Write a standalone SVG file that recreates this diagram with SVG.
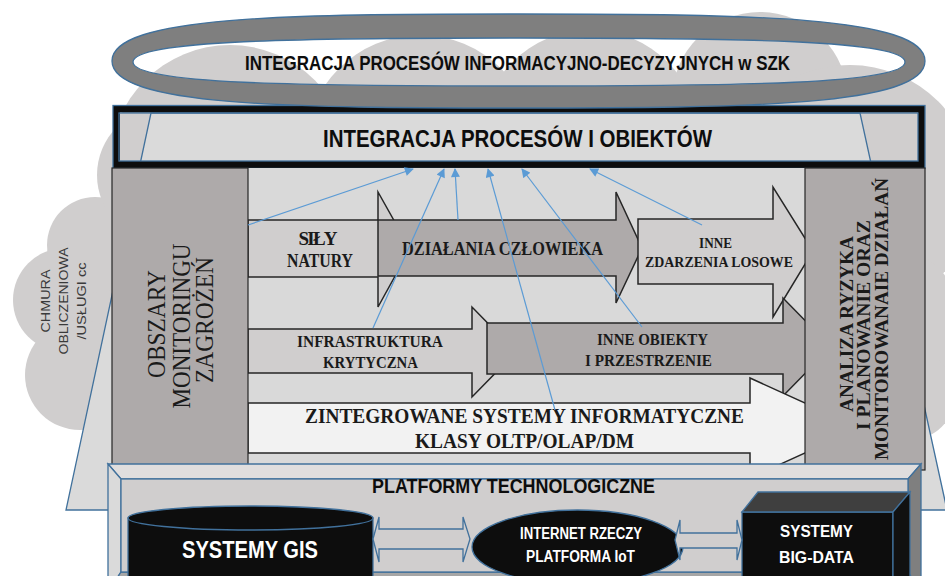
<svg xmlns="http://www.w3.org/2000/svg" width="945" height="576" viewBox="0 0 945 576">
<defs>
<style>
.sans{font-family:"Liberation Sans",Arial,sans-serif;font-weight:bold}
.serif{font-family:"Liberation Serif","Times New Roman",serif;fill:#1a1a1a}
.b{font-weight:bold}
.arw{stroke:#262626;stroke-width:1.5;stroke-linejoin:miter}
.light{fill:#d0cece}
.dark{fill:#aeaaaa}
.conn{stroke:#5b9bd5;stroke-width:1.2;fill:none}
.blue{stroke:#41719c;stroke-width:1.3}
.w{fill:#ffffff}
</style>
<marker id="ah" viewBox="0 0 10 10" refX="9" refY="5" markerWidth="10" markerHeight="9" markerUnits="userSpaceOnUse" orient="auto">
<path d="M0,0 L10,5 L0,10 z" fill="#5b9bd5"/>
</marker>
</defs>
<rect width="945" height="576" fill="#ffffff"/>

<g id="cloud" fill="#d0cece">
<circle cx="65" cy="300" r="52"/>
<circle cx="80" cy="375" r="55"/>
<circle cx="95" cy="245" r="48"/>
<circle cx="165" cy="175" r="68"/>
<circle cx="230" cy="165" r="120"/>
<circle cx="420" cy="150" r="115"/>
<circle cx="590" cy="140" r="110"/>
<circle cx="760" cy="100" r="88"/>
<circle cx="850" cy="190" r="125"/>
<circle cx="880" cy="330" r="85"/>
<circle cx="910" cy="395" r="45"/>
</g>

<rect id="integration-box-fill" x="119" y="113" width="799" height="48" fill="#d0cece"/>
<polygon id="trapezoid" points="151,113 860,113 947,510 66,510" fill="#dadada" class="blue"/>

<g id="integration-box">
<rect x="116.5" y="109" width="805" height="55.5" fill="none" stroke="#0d0d0d" stroke-width="7"/>
<rect x="113" y="105.5" width="812" height="63" fill="none" class="blue"/>
<rect x="119" y="113" width="799" height="48" fill="none" class="blue"/>
<text class="sans" x="517.5" y="147" font-size="24" text-anchor="middle" textLength="389" lengthAdjust="spacingAndGlyphs" fill="#0d0d0d">INTEGRACJA PROCESÓW I OBIEKTÓW</text>
</g>

<g id="ring">
<path fill-rule="evenodd" fill="#7f7f7f" class="blue" d="M112,61 C112,16 290,14 518,14 C746,14 925,16 925,61 C925,106 746,108 518,108 C290,108 112,106 112,61 Z M133,62 C133,40 300,38 519,38 C738,38 905,40 905,62 C905,84 738,86 519,86 C300,86 133,84 133,62 Z"/>
<text class="sans" x="517.5" y="70" font-size="21" text-anchor="middle" textLength="545" lengthAdjust="spacingAndGlyphs" fill="#0d0d0d">INTEGRACJA PROCESÓW INFORMACYJNO-DECYZYJNYCH w SZK</text>
</g>

<rect id="panel" x="248" y="168" width="557" height="296" fill="#d9d9d9"/>

<g id="arrow-sily-natury">
<polygon class="arw light" points="248,220 378,220 378,192 410,249 378,307 378,277 248,277"/>
<text class="serif b" font-size="19" text-anchor="middle" lengthAdjust="spacingAndGlyphs"><tspan x="318" y="245" textLength="39">SIŁY</tspan></text>
<text class="serif b" font-size="19" text-anchor="middle" x="320" y="267" textLength="66" lengthAdjust="spacingAndGlyphs">NATURY</text>
</g>
<g id="arrow-dzialania">
<polygon class="arw dark" points="378,220 616,220 616,192 642,248 616,303 616,276 378,276"/>
<text class="serif b" font-size="19" text-anchor="middle" x="502.5" y="255" textLength="201" lengthAdjust="spacingAndGlyphs">DZIAŁANIA CZŁOWIEKA</text>
</g>
<g id="arrow-zdarzenia">
<polygon class="arw light" points="638,219 773,219 773,187 813,251 773,317 773,284 638,284"/>
<text class="serif b" font-size="15" text-anchor="middle" x="715.5" y="248" textLength="33" lengthAdjust="spacingAndGlyphs">INNE</text>
<text class="serif b" font-size="15" text-anchor="middle" x="719" y="267" textLength="148" lengthAdjust="spacingAndGlyphs">ZDARZENIA LOSOWE</text>
</g>
<g id="arrow-infrastruktura">
<polygon class="arw light" points="248,329 472,329 472,307 516,352 472,397 472,373 248,373"/>
<text class="serif b" font-size="16" text-anchor="middle" x="370" y="347" textLength="146" lengthAdjust="spacingAndGlyphs">INFRASTRUKTURA</text>
<text class="serif b" font-size="16" text-anchor="middle" x="370.5" y="368" textLength="95" lengthAdjust="spacingAndGlyphs">KRYTYCZNA</text>
</g>
<g id="arrow-obiekty">
<polygon class="arw dark" points="487,323 783,323 783,298 831,347 783,396 783,374 487,374"/>
<text class="serif b" font-size="17" text-anchor="middle" x="652.5" y="345" textLength="111" lengthAdjust="spacingAndGlyphs">INNE OBIEKTY</text>
<text class="serif b" font-size="17" text-anchor="middle" x="648.5" y="366" textLength="127" lengthAdjust="spacingAndGlyphs">I PRZESTRZENIE</text>
</g>
<g id="arrow-systemy">
<polygon class="arw" fill="#f2f2f2" points="248,403 750,403 750,378 860,428 750,478 750,453 248,453"/>
<text class="serif b" font-size="21" text-anchor="middle" x="524.5" y="423" textLength="439" lengthAdjust="spacingAndGlyphs">ZINTEGROWANE SYSTEMY INFORMATYCZNE</text>
<text class="serif b" font-size="21" text-anchor="middle" x="524.5" y="448" textLength="219" lengthAdjust="spacingAndGlyphs">KLASY OLTP/OLAP/DM</text>
</g>

<g id="obszary">
<rect x="112" y="168" width="136" height="300" fill="#aeaaaa" stroke="#262626" stroke-width="1.2"/>
<text class="serif" font-size="25" text-anchor="middle" fill="#333333" transform="translate(165,324) rotate(-90)" textLength="108" lengthAdjust="spacingAndGlyphs">OBSZARY</text>
<text class="serif" font-size="25" text-anchor="middle" fill="#333333" transform="translate(190,326) rotate(-90)" textLength="165" lengthAdjust="spacingAndGlyphs">MONITORINGU</text>
<text class="serif" font-size="25" text-anchor="middle" fill="#333333" transform="translate(213,320) rotate(-90)" textLength="126" lengthAdjust="spacingAndGlyphs">ZAGROŻEŃ</text>
</g>

<g id="analiza">
<rect x="805" y="168" width="120" height="302" fill="#aeaaaa" stroke="#262626" stroke-width="1.2"/>
<text class="serif b" font-size="19" text-anchor="middle" transform="translate(853,324) rotate(-90)" textLength="176" lengthAdjust="spacingAndGlyphs">ANALIZA RYZYKA</text>
<text class="serif b" font-size="19" text-anchor="middle" transform="translate(870,325) rotate(-90)" textLength="210" lengthAdjust="spacingAndGlyphs">I PLANOWANIE ORAZ</text>
<text class="serif b" font-size="19" text-anchor="middle" transform="translate(888,319) rotate(-90)" textLength="282" lengthAdjust="spacingAndGlyphs">MONITOROWANAIE DZIAŁAŃ</text>
</g>

<g id="connectors" class="conn" marker-end="url(#ah)">
<line x1="248" y1="225" x2="413" y2="169"/>
<line x1="373" y1="328" x2="444" y2="169"/>
<line x1="458" y1="220" x2="455" y2="169"/>
<line x1="555" y1="410" x2="488" y2="169"/>
<line x1="642" y1="327" x2="522" y2="169"/>
<line x1="702" y1="225" x2="590" y2="169"/>
</g>

<g id="platform">
<polygon points="108,464 921,464 908,479 121,479" fill="#e0dede" class="blue"/>
<polygon points="108,464 121,479 121,572 108,592" fill="#dadada" class="blue"/>
<polygon points="921,464 921,592 908,572 908,479" fill="#7f7f7f" class="blue"/>
<polygon points="108,592 121,572 908,572 921,592" fill="#a6a6a6" class="blue"/>
<rect x="121" y="479" width="787" height="93" fill="#d0cece" class="blue"/>
<text class="sans" x="513.5" y="493" font-size="20" text-anchor="middle" textLength="283" lengthAdjust="spacingAndGlyphs" fill="#0d0d0d">PLATFORMY TECHNOLOGICZNE</text>
</g>

<g id="gis">
<rect x="128" y="518" width="245" height="80" fill="#0d0d0d" class="blue"/>
<ellipse cx="250.5" cy="518" rx="122.5" ry="12" fill="#0d0d0d" class="blue"/>
<text class="sans w" x="250" y="558" font-size="24" text-anchor="middle" textLength="136" lengthAdjust="spacingAndGlyphs">SYSTEMY GIS</text>
</g>

<g id="iot">
<ellipse cx="577.5" cy="547" rx="105.5" ry="37" fill="#0d0d0d" class="blue"/>
<text class="sans w" x="581" y="539" font-size="16" text-anchor="middle" textLength="122" lengthAdjust="spacingAndGlyphs">INTERNET RZECZY</text>
<text class="sans w" x="580.5" y="562" font-size="16" text-anchor="middle" textLength="109" lengthAdjust="spacingAndGlyphs">PLATFORMA IoT</text>
</g>

<g id="bigdata">
<rect x="742" y="512" width="151" height="88" fill="#0d0d0d" class="blue"/>
<polygon points="742,512 758,492 910,492 893,512" fill="#3f3f3f" class="blue"/>
<polygon points="893,512 910,492 910,580 893,600" fill="#111111" class="blue"/>
<text class="sans w" x="816.5" y="537" font-size="17" text-anchor="middle" textLength="73" lengthAdjust="spacingAndGlyphs">SYSTEMY</text>
<text class="sans w" x="816.5" y="563" font-size="17" text-anchor="middle" textLength="75" lengthAdjust="spacingAndGlyphs">BIG-DATA</text>
</g>

<g id="platform-links">
<polygon points="373,539 379,517 379,529 463,529 463,517 470,539 463,562 463,549 379,549 379,562" fill="#d0cece" class="blue"/>
<polygon points="675,540 680,520 680,533 737,533 737,520 742,540 737,560 737,548 680,548 680,560" fill="#d0cece" class="blue"/>
</g>

<g id="cloud-label" font-family="'Liberation Sans',Arial,sans-serif" font-size="13" fill="#3a3a3a" text-anchor="middle">
<text transform="translate(50,301) rotate(-90)" textLength="63" lengthAdjust="spacingAndGlyphs">CHMURA</text>
<text transform="translate(68,301) rotate(-90)" textLength="107" lengthAdjust="spacingAndGlyphs">OBLICZENIOWA</text>
<text transform="translate(86,301) rotate(-90)" textLength="77" lengthAdjust="spacingAndGlyphs">/USŁUGI cc</text>
</g>
</svg>
